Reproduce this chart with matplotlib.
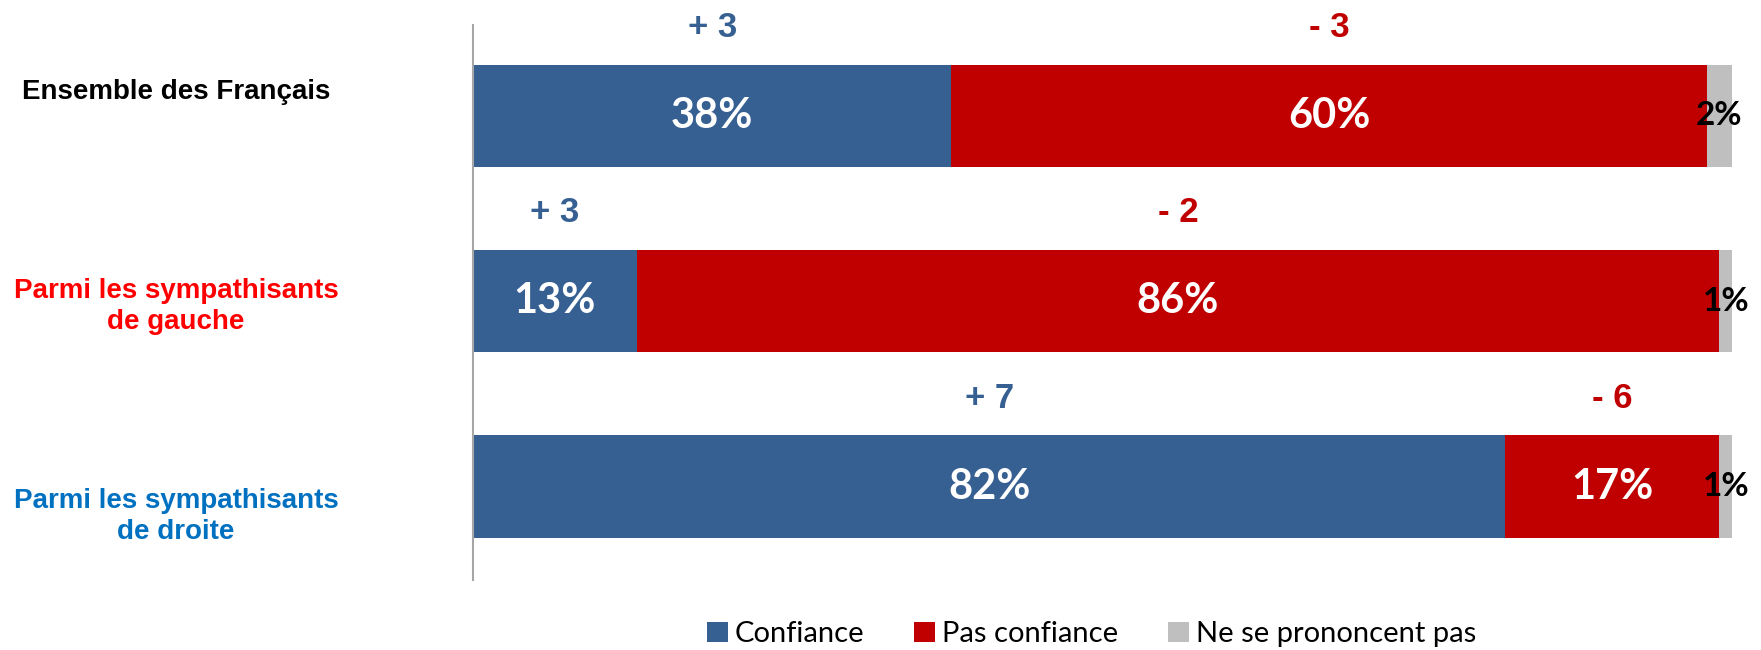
import matplotlib
matplotlib.use("Agg")
import matplotlib.pyplot as plt
from matplotlib.patches import Patch
from matplotlib.transforms import blended_transform_factory

categories = ["Ensemble des Français", "Parmi les sympathisants\nde gauche", "Parmi les sympathisants\nde droite"]
cat_colors = ["#000000", "#FF0000", "#0070C0"]
confiance = [38, 13, 82]
pas_confiance = [60, 86, 17]
nsp = [2, 1, 1]
evol_conf = ["+ 3", "+ 3", "+ 7"]
evol_pas = ["- 3", "- 2", "- 6"]
series_names = ["Confiance", "Pas confiance", "Ne se prononcent pas"]
colors = ["#376092", "#C00000", "#BFBFBF"]

fig = plt.figure(figsize=(17.61, 6.5), dpi=100)
ax = fig.add_axes([473/1761, 1-580/650, (1732-473)/1761, (580-25)/650])

y = list(range(len(categories)))
h = 0.55
left2 = [a for a in confiance]
left3 = [a + b for a, b in zip(confiance, pas_confiance)]
ax.barh(y, confiance, height=h, color=colors[0])
ax.barh(y, pas_confiance, left=left2, height=h, color=colors[1])
ax.barh(y, nsp, left=left3, height=h, color=colors[2])

ax.set_xlim(0, 100)
ax.set_ylim(2.504, -0.488)
for s in ["top", "right", "bottom"]:
    ax.spines[s].set_visible(False)
ax.spines["left"].set_color("#A6A6A6")
ax.spines["left"].set_linewidth(1.5)
ax.set_xticks([])
ax.set_yticks([])

vfont = "Lato"
for i in y:
    ax.text(confiance[i]/2, i, f"{confiance[i]}%", ha="center", va="center",
            color="white", fontsize=30, fontweight="bold", family=vfont)
    ax.text(left2[i] + pas_confiance[i]/2, i, f"{pas_confiance[i]}%", ha="center", va="center",
            color="white", fontsize=30, fontweight="bold", family=vfont)
    ax.text(left3[i] + nsp[i]/2, i, f"{nsp[i]}%", ha="center", va="center",
            color="black", fontsize=24, fontweight="bold", family=vfont)
    ax.text(confiance[i]/2, i - h/2 - 0.2, evol_conf[i], ha="center", va="center",
            color=colors[0], fontsize=25, fontweight="bold", family="Liberation Sans")
    ax.text(left2[i] + pas_confiance[i]/2, i - h/2 - 0.2, evol_pas[i], ha="center", va="center",
            color=colors[1], fontsize=25, fontweight="bold", family="Liberation Sans")

trans = blended_transform_factory(fig.transFigure, ax.transData)
label_y = [-0.125, 1.03, 2.16]
for i, (c, col) in enumerate(zip(categories, cat_colors)):
    ax.text(176/1761, label_y[i], c, transform=trans, ha="center", va="center",
            color=col, fontsize=20, fontweight="bold", family="Liberation Sans",
            linespacing=1.25)

handles = [Patch(facecolor=c, edgecolor="none") for c in colors]
fig.legend(handles, series_names, loc="center", bbox_to_anchor=(972/1568, 1-565/579),
           ncol=3, frameon=False, handlelength=0.72, handleheight=0.72, handletextpad=0.25,
           columnspacing=1.7, prop={"family": "Lato", "size": 21})

fig.savefig("out.png", dpi=100, facecolor="white")
